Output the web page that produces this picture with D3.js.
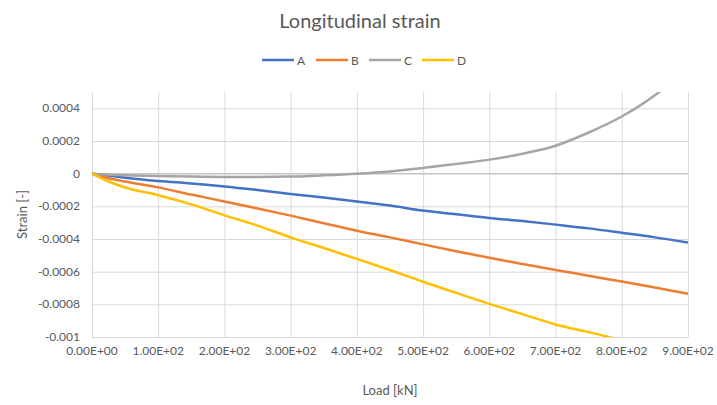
<!DOCTYPE html>
<html>
<head>
<meta charset="utf-8">
<script src="https://cdn.jsdelivr.net/npm/d3@7"></script>
<style>
  body { margin: 0; background: #fff; }
  text { font-family: Lato, "Open Sans", sans-serif; fill: #595959; }
  .gridline line { stroke: #d9d9d9; }
  .gridline path { display: none; }
</style>
</head>
<body>
<div id="chartContainer"></div>
<script>
// load steps [kN]
const loads = [0, 25, 50, 100, 150, 200, 250, 300, 350, 400, 450, 500, 550, 600, 650, 700, 750, 800, 850, 900];

const seriesA = [0, -0.000012, -0.000025, -0.000045, -0.00006, -0.000078, -0.0001, -0.000124, -0.000146, -0.00017,
  -0.000195, -0.000226, -0.000248, -0.000271, -0.00029, -0.000312, -0.000335, -0.000362, -0.00039, -0.000422];
const seriesB = [0, -0.000028, -0.000048, -0.000084, -0.000128, -0.00017, -0.000213, -0.000257, -0.000303, -0.000349,
  -0.00039, -0.000433, -0.000475, -0.000515, -0.000553, -0.00059, -0.000625, -0.00066, -0.000697, -0.000735];
const seriesC = [0, -0.000006, -0.00001, -0.000014, -0.000018, -0.00002, -0.00002, -0.000018, -0.00001, 0,
  0.000014, 0.000035, 0.00006, 0.000086, 0.000122, 0.000171, 0.000252, 0.00035, 0.00048, 0.00065];
const seriesD = [0, -0.000048, -0.000085, -0.000132, -0.000188, -0.000255, -0.000318, -0.00039, -0.000455, -0.000522,
  -0.00059, -0.000662, -0.00073, -0.000797, -0.00086, -0.000923, -0.00097, -0.00102, -0.00108, -0.00114];

const seriesNames = ['A', 'B', 'C', 'D'];
const seriesColors = ['#4472C4', '#ED7D31', '#A5A5A5', '#FFC000'];
const xTicks = [0, 100, 200, 300, 400, 500, 600, 700, 800, 900];
const yTicks = [0.0004, 0.0002, 0, -0.0002, -0.0004, -0.0006, -0.0008, -0.001];

const width = 717;
const height = 405;
const margin = { top: 92, bottom: 68, left: 92, right: 29 };
const chartWidth = width - margin.left - margin.right;
const chartHeight = height - margin.top - margin.bottom;

const svg = d3.select('#chartContainer')
  .append('svg')
  .attr('width', width)
  .attr('height', height);

svg.append('text')
  .attr('x', 360)
  .attr('y', 28)
  .style('font-size', '20px')
  .style('text-anchor', 'middle')
  .text('Longitudinal strain');

const chart = svg.append('g')
  .attr('transform', `translate(${margin.left},${margin.top})`);

const xScale = d3.scaleLinear().domain([0, 900]).range([0, chartWidth]);
const yScale = d3.scaleLinear().domain([-0.001, 0.0005]).range([chartHeight, 0]);

// gridlines
chart.append('g')
  .classed('gridline', true)
  .call(d3.axisLeft(yScale).tickValues(yTicks).tickSize(-chartWidth).tickFormat(''));
chart.append('g')
  .classed('gridline', true)
  .call(d3.axisBottom(xScale).tickValues(xTicks).tickSize(chartHeight).tickFormat(''));

// zero axis line
chart.append('line')
  .attr('x1', 0).attr('x2', chartWidth)
  .attr('y1', yScale(0)).attr('y2', yScale(0))
  .attr('stroke', '#bfbfbf');

// tick labels
chart.selectAll('.ylab')
  .data(yTicks)
  .enter()
  .append('text')
  .attr('x', -12)
  .attr('y', d => yScale(d) + 4)
  .style('font-size', '12px')
  .style('text-anchor', 'end')
  .text(d => d === 0 ? '0' : String(+d.toPrecision(4)));

chart.selectAll('.xlab')
  .data(xTicks)
  .enter()
  .append('text')
  .attr('x', d => xScale(d))
  .attr('y', chartHeight + 18)
  .style('font-size', '12px')
  .style('text-anchor', 'middle')
  .text(d => d3.format('.2e')(d).replace('e+', 'E+0'));

// axis titles
svg.append('text')
  .attr('transform', `translate(27,${margin.top + chartHeight / 2}) rotate(-90)`)
  .style('font-size', '13px')
  .style('text-anchor', 'middle')
  .text('Strain [-]');

svg.append('text')
  .attr('x', margin.left + chartWidth / 2)
  .attr('y', 395)
  .style('font-size', '13px')
  .style('text-anchor', 'middle')
  .text('Load [kN]');

// lines
const allSeries = [seriesA, seriesB, seriesC, seriesD];

svg.append('clipPath')
  .attr('id', 'plotClip')
  .append('rect')
  .attr('width', chartWidth)
  .attr('height', chartHeight);

const line = d3.line()
  .x((d, i) => xScale(loads[i]))
  .y(d => yScale(d))
  .curve(d3.curveMonotoneX);

chart.append('g')
  .attr('clip-path', 'url(#plotClip)')
  .selectAll('path')
  .data(allSeries)
  .enter()
  .append('path')
  .attr('d', d => line(d))
  .attr('fill', 'none')
  .attr('stroke', (d, i) => seriesColors[i])
  .attr('stroke-width', 2.5)
  .attr('stroke-linejoin', 'round');

// legend
const legendX = [262, 316, 369, 422];
const legend = svg.selectAll('.legend')
  .data(seriesNames)
  .enter()
  .append('g')
  .attr('transform', (d, i) => `translate(${legendX[i]},60)`);

legend.append('line')
  .attr('x1', 0).attr('x2', 32)
  .attr('stroke', (d, i) => seriesColors[i])
  .attr('stroke-width', 2.5);

legend.append('text')
  .attr('x', 35)
  .attr('y', 4.5)
  .style('font-size', '12px')
  .text(d => d);
</script>
</body>
</html>
